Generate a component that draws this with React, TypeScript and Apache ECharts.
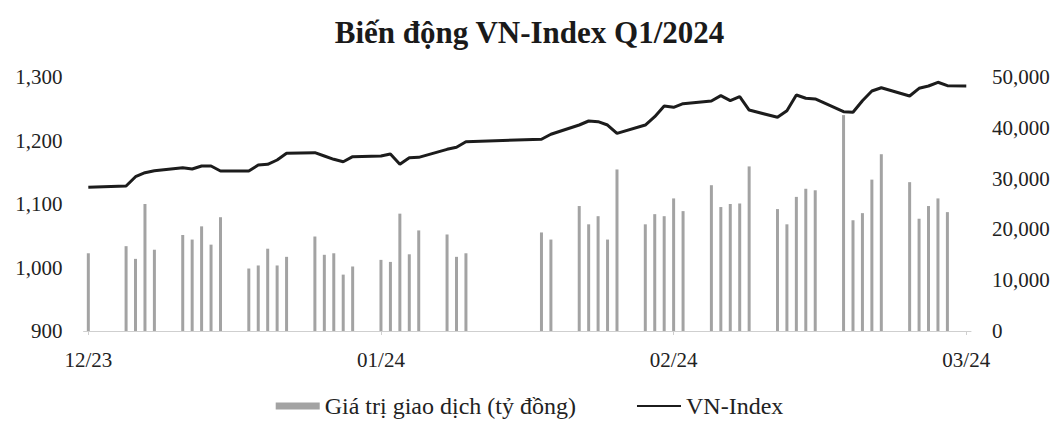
import React, { useEffect, useRef } from "react";
import * as echarts from "echarts";

const titleText = "Biến động VN-Index Q1/2024";
const barName = "Giá trị giao dịch (tỷ đồng)";
const lineName = "VN-Index";

const axisStart = "2023-12-29";
const axisDayCount = 94;

const xTickDates = ["2023-12-29", "2024-01-29", "2024-02-29", "2024-03-31"];
const xTickLabels = ["12/23", "01/24", "02/24", "03/24"];

const tradingDays = [
  "2023-12-29",
  "2024-01-02", "2024-01-03", "2024-01-04", "2024-01-05",
  "2024-01-08", "2024-01-09", "2024-01-10", "2024-01-11", "2024-01-12",
  "2024-01-15", "2024-01-16", "2024-01-17", "2024-01-18", "2024-01-19",
  "2024-01-22", "2024-01-23", "2024-01-24", "2024-01-25", "2024-01-26",
  "2024-01-29", "2024-01-30", "2024-01-31", "2024-02-01", "2024-02-02",
  "2024-02-05", "2024-02-06", "2024-02-07",
  "2024-02-15", "2024-02-16",
  "2024-02-19", "2024-02-20", "2024-02-21", "2024-02-22", "2024-02-23",
  "2024-02-26", "2024-02-27", "2024-02-28", "2024-02-29", "2024-03-01",
  "2024-03-04", "2024-03-05", "2024-03-06", "2024-03-07", "2024-03-08",
  "2024-03-11", "2024-03-12", "2024-03-13", "2024-03-14", "2024-03-15",
  "2024-03-18", "2024-03-19", "2024-03-20", "2024-03-21", "2024-03-22",
  "2024-03-25", "2024-03-26", "2024-03-27", "2024-03-28", "2024-03-29",
];

const turnover = [
  15300,
  16700, 14200, 25000, 16000,
  18900, 18000, 20600, 17000, 22400,
  12300, 12900, 16200, 12900, 14600,
  18600, 15000, 15300, 11100, 12700,
  14000, 13600, 23100, 15100, 19800,
  19000, 14600, 15300,
  19400, 18000,
  24600, 21000, 22600, 18000, 31800,
  21000, 23000, 22600, 26100, 23600,
  28700, 24400, 25000, 25100, 32400,
  24000, 21000, 26400, 28000, 27700,
  42500, 21800, 23200, 29800, 34800,
  29300, 22100, 24600, 26100, 23400,
];

const lineDays = [...tradingDays, "2024-03-31"];
const vnIndex = [
  1126.3,
  1128.3, 1143.0, 1149.3, 1152.4,
  1157.2, 1155.1, 1159.8, 1159.8, 1152.0,
  1152.0, 1161.4, 1162.5, 1169.3, 1179.8,
  1180.8, 1175.6, 1170.4, 1166.6, 1174.5,
  1175.6, 1178.7, 1162.5, 1172.9, 1173.5,
  1186.1, 1189.3, 1198.1,
  1201.9, 1209.8,
  1224.4, 1230.7, 1229.6, 1224.4, 1211.3,
  1224.4, 1237.5, 1254.3, 1252.3, 1258.0,
  1262.2, 1270.6, 1262.7, 1269.0, 1248.0,
  1236.5, 1246.9, 1271.7, 1266.5, 1265.4,
  1245.4, 1244.4, 1262.7, 1278.0, 1283.1,
  1270.1, 1282.2, 1285.8, 1291.7, 1286.3,
  1286.0,
];

function buildCalendar(start: string, count: number): string[] {
  const out: string[] = [];
  const d0 = new Date(start + "T00:00:00Z").getTime();
  for (let i = 0; i < count; i++) {
    out.push(new Date(d0 + i * 86400000).toISOString().slice(0, 10));
  }
  return out;
}

const SERIF = "'Liberation Serif', 'DejaVu Serif', serif";

export default function App() {
  const ref = useRef<HTMLDivElement>(null);

  useEffect(() => {
    if (!ref.current) return;
    const chart = echarts.init(ref.current, null, { renderer: "svg" });
    const days = buildCalendar(axisStart, axisDayCount);
    const barMap = new Map<string, number>();
    tradingDays.forEach((d, i) => barMap.set(d, turnover[i]));
    const lineMap = new Map<string, number>();
    lineDays.forEach((d, i) => lineMap.set(d, vnIndex[i]));
    const barData = days.map((d) => (barMap.has(d) ? barMap.get(d)! : null));
    const lineData = days.map((d) => (lineMap.has(d) ? lineMap.get(d)! : null));
    const tickIdx = new Set(xTickDates.map((d) => days.indexOf(d)));

    const axisFont = { fontFamily: SERIF, fontSize: 21, color: "#222" };

    chart.setOption({
      animation: false,
      backgroundColor: "#ffffff",
      title: {
        text: titleText,
        left: "center",
        top: 12,
        textStyle: {
          fontFamily: SERIF,
          fontWeight: "bold",
          fontSize: 31,
          color: "#1a1a1a",
        },
      },
      legend: {
        bottom: 0,
        left: "center",
        itemGap: 60,
        itemWidth: 44,
        itemHeight: 7,
        textStyle: { fontFamily: SERIF, fontSize: 24, color: "#222" },
        data: [
          { name: barName, icon: "rect" },
          { name: lineName, itemStyle: { opacity: 0 } },
        ],
      },
      grid: { left: 83.6, right: 88, top: 77, bottom: 92 },
      xAxis: {
        type: "category",
        data: days,
        boundaryGap: true,
        axisLine: { show: true, lineStyle: { color: "#cfcfcf", width: 1 } },
        axisTick: {
          show: true,
          alignWithLabel: true,
          length: 4,
          interval: (i: number) => tickIdx.has(i),
          lineStyle: { color: "#cfcfcf" },
        },
        axisLabel: {
          interval: (i: number) => tickIdx.has(i),
          formatter: (v: string) => {
            const k = xTickDates.indexOf(v);
            return k >= 0 ? xTickLabels[k] : "";
          },
          hideOverlap: false,
          margin: 18,
          ...axisFont,
        },
      },
      yAxis: [
        {
          type: "value",
          min: 900,
          max: 1300,
          interval: 100,
          position: "left",
          axisLine: { show: false },
          axisTick: { show: false },
          splitLine: { show: false },
          axisLabel: {
            margin: 21,
            ...axisFont,
            formatter: (v: number) => v.toLocaleString("en-US"),
          },
        },
        {
          type: "value",
          min: 0,
          max: 50000,
          interval: 10000,
          position: "right",
          axisLine: { show: false },
          axisTick: { show: false },
          splitLine: { show: false },
          axisLabel: {
            margin: 21,
            ...axisFont,
            formatter: (v: number) => v.toLocaleString("en-US"),
          },
        },
      ],
      series: [
        {
          name: barName,
          type: "bar",
          yAxisIndex: 1,
          barWidth: 3,
          itemStyle: { color: "#a3a3a3" },
          data: barData,
        },
        {
          name: lineName,
          type: "line",
          yAxisIndex: 0,
          showSymbol: false,
          symbol: "none",
          connectNulls: true,
          lineStyle: { color: "#1c1c1c", width: 3 },
          itemStyle: { color: "#1c1c1c" },
          data: lineData,
          z: 5,
        },
      ],
    });
    return () => chart.dispose();
  }, []);

  return (
    <div
      ref={ref}
      style={{ position: "fixed", left: 0, top: 0, width: 1059, height: 423, background: "#fff" }}
    />
  );
}
